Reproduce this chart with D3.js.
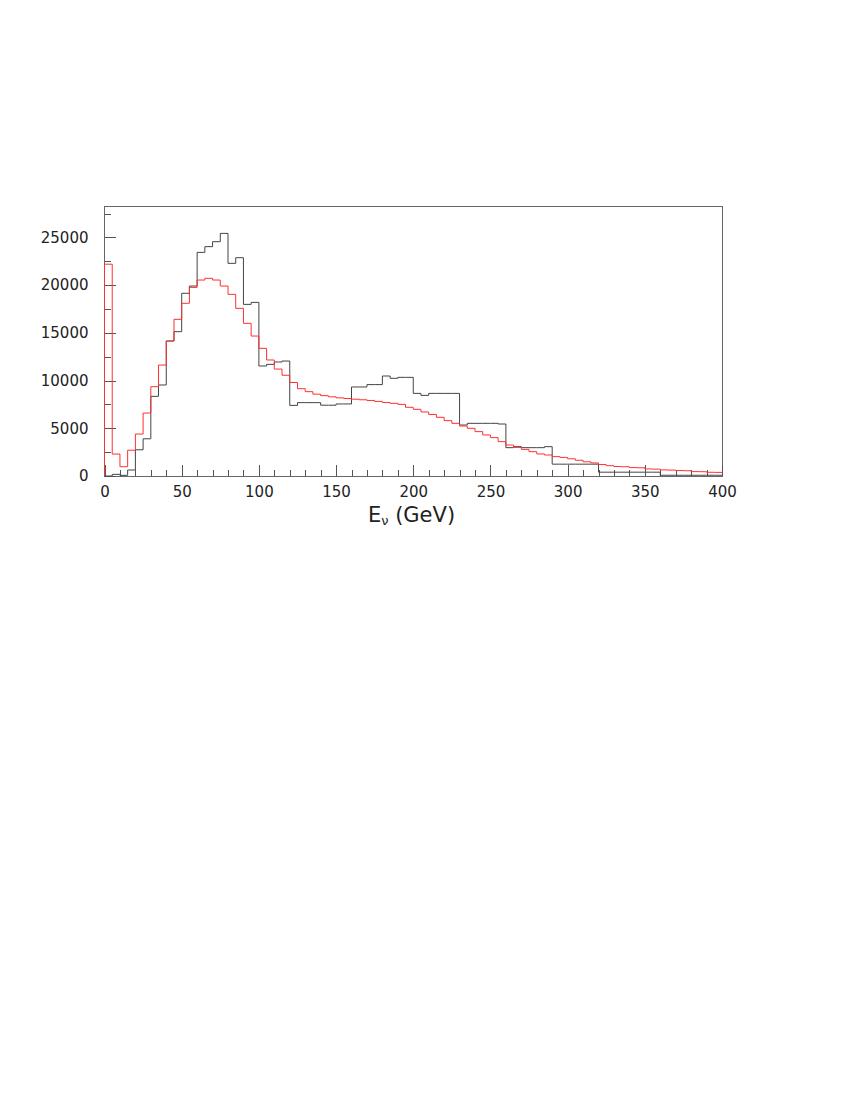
<!DOCTYPE html>
<html>
<head>
<meta charset="utf-8">
<script src="https://cdn.jsdelivr.net/npm/d3@7"></script>
<style>
  html, body { margin: 0; padding: 0; background: #fff; }
  svg { display: block; }
  text { font-family: "DejaVu Sans", sans-serif; fill: #222; }
</style>
</head>
<body>
<svg id="chart" width="850" height="1100"></svg>
<script>
// ---- Data (5 GeV bins, lower edges) ----
const binLowEdges = [0,5,10,15,20,25,30,35,40,45,50,55,60,65,70,75,80,85,90,95,
  100,105,110,115,120,125,130,135,140,145,150,155,160,165,170,175,180,185,190,195,
  200,205,210,215,220,225,230,235,240,245,250,255,260,265,270,275,280,285,290,295,
  300,305,310,315,320,325,330,335,340,345,350,355,360,365,370,375,380,385,390,395];
const binWidth = 5;

const blackSeries = [0,175,70,630,2750,3900,8350,9540,14150,15130,
  19150,19910,23440,24040,24560,25430,22290,22880,17990,18200,
  11530,11700,11950,12050,7400,7690,7690,7690,7420,7420,
  7550,7550,9330,9330,9580,9580,10480,10240,10340,10340,
  8660,8450,8660,8660,8660,8660,5345,5520,5520,5520,
  5520,5450,2970,3075,2970,2970,2970,3075,1240,1240,
  1240,1240,1240,1240,400,400,400,400,400,400,
  400,400,80,80,80,80,80,80,80,80];

const redSeries = [22200,2300,970,2700,4400,6600,9360,11630,14150,16420,
  18100,19770,20540,20720,20540,19910,19040,17570,16000,14670,
  13380,12160,11210,10560,9800,9150,8840,8580,8420,8300,
  8190,8120,8050,7990,7920,7820,7700,7620,7510,7200,
  6990,6710,6450,6150,5800,5520,5240,5000,4650,4300,
  4020,3600,3250,3000,2790,2550,2310,2200,2030,1950,
  1800,1650,1490,1370,1200,1080,990,970,880,860,
  740,720,640,620,570,550,460,450,390,380];

const xTickMajor = [0,50,100,150,200,250,300,350,400];
const yTickMajor = [0,5000,10000,15000,20000,25000];
const xDomain = [0, 400];
const yDomain = [0, 28300];
const xTitle = "E";
const xTitleSub = "ν";
const xTitleRest = " (GeV)";

// ---- Layout ----
const pL = 104.5, pR = 722, pT = 206, pB = 476;
const svg = d3.select("#chart");
const x = d3.scaleLinear().domain(xDomain).range([pL, pR]);
const y = d3.scaleLinear().domain(yDomain).range([pB, pT]);

// frame
svg.append("rect")
  .attr("x", pL).attr("y", pT)
  .attr("width", pR - pL).attr("height", pB - pT)
  .attr("fill", "none").attr("stroke", "#666").attr("stroke-width", 1)
  .attr("shape-rendering", "crispEdges");

// x ticks
const xMinor = d3.range(xDomain[0], xDomain[1] + 1, 10).filter(v => v % 50 !== 0);
const gxMinor = svg.append("g").attr("transform", `translate(0,${pB})`)
  .call(d3.axisBottom(x).tickValues(xMinor).tickSize(-6).tickFormat(""));
const gxMajor = svg.append("g").attr("transform", `translate(0,${pB})`)
  .call(d3.axisBottom(x).tickValues(xTickMajor).tickSize(-11).tickPadding(10)
        .tickFormat(d3.format("d")));
[gxMinor, gxMajor].forEach(g => {
  g.select(".domain").remove();
  g.selectAll(".tick line").attr("stroke", "#555").attr("shape-rendering", "crispEdges");
});
gxMajor.selectAll(".tick text").attr("font-size", 15).attr("fill", "#222")
  .attr("font-family", "DejaVu Sans, sans-serif");

// y ticks
const yMinor = d3.range(2500, yDomain[1], 5000);
const gyMinor = svg.append("g").attr("transform", `translate(${pL},0)`)
  .call(d3.axisLeft(y).tickValues(yMinor).tickSize(-6).tickFormat(""));
const gyMajor = svg.append("g").attr("transform", `translate(${pL},0)`)
  .call(d3.axisLeft(y).tickValues(yTickMajor).tickSize(-11).tickPadding(16)
        .tickFormat(d3.format("d")));
[gyMinor, gyMajor].forEach(g => {
  g.select(".domain").remove();
  g.selectAll(".tick line").attr("stroke", "#555").attr("shape-rendering", "crispEdges");
});
gyMajor.selectAll(".tick text").attr("font-size", 15).attr("fill", "#222")
  .attr("font-family", "DejaVu Sans, sans-serif");

// histograms
function histPoints(vals) {
  const pts = [[binLowEdges[0], 0]];
  vals.forEach((v, i) => pts.push([binLowEdges[i], v]));
  pts.push([binLowEdges[vals.length - 1] + binWidth, vals[vals.length - 1]]);
  return pts;
}
const line = d3.line().x(d => x(d[0])).y(d => y(d[1])).curve(d3.curveStepAfter);

svg.append("path").attr("d", line(histPoints(blackSeries)))
  .attr("fill", "none").attr("stroke", "#444").attr("stroke-width", 1);
svg.append("path").attr("d", line(histPoints(redSeries)))
  .attr("fill", "none").attr("stroke", "#ff3030").attr("stroke-width", 1);

// x title
const t = svg.append("text").attr("x", 411.5).attr("y", 522)
  .attr("text-anchor", "middle").attr("font-size", 21).attr("fill", "#222");
t.append("tspan").text(xTitle);
t.append("tspan").text(xTitleSub).attr("font-size", 13).attr("dy", 3);
t.append("tspan").text(xTitleRest).attr("dy", -3);
</script>
</body>
</html>
